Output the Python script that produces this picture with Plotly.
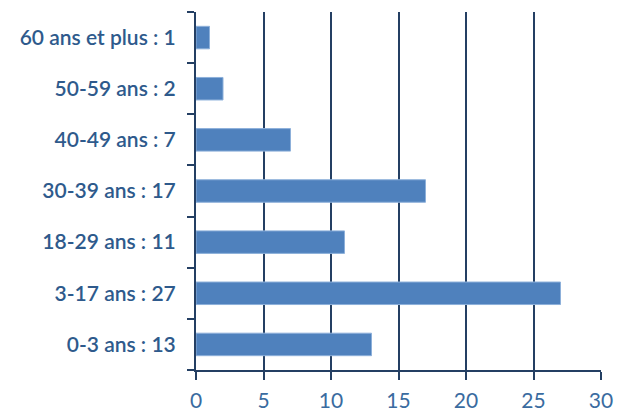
import plotly.graph_objects as go

categories = ["0-3 ans : 13", "3-17 ans : 27", "18-29 ans : 11", "30-39 ans : 17",
              "40-49 ans : 7", "50-59 ans : 2", "60 ans et plus : 1"]
values = [13, 27, 11, 17, 7, 2, 1]
x_ticks = [0, 5, 10, 15, 20, 25, 30]

navy = "#243F63"
fig = go.Figure(go.Bar(
    x=values, y=categories, orientation="h",
    marker=dict(color="#4F81BD", line=dict(color="#8DB0DA", width=1)),
))
fig.update_layout(
    width=627, height=412,
    margin=dict(l=188, r=34, t=4, b=50),
    plot_bgcolor="white", paper_bgcolor="white",
    bargap=0.56, showlegend=False,
    font=dict(family="Lato", color="#2E5A8C"),
)
fig.update_xaxes(
    range=[0, 30], tickvals=x_ticks, showgrid=True, gridcolor=navy, gridwidth=1.5,
    showline=True, linecolor=navy, linewidth=2, ticks="outside", ticklen=8,
    tickcolor=navy, tickwidth=2, zeroline=False,
    tickfont=dict(size=21, family="Lato", color="#3A6BA0"),
    ticklabelstandoff=3,
)
fig.update_yaxes(
    showline=True, linecolor=navy, linewidth=2, ticks="outside", ticklen=7,
    tickcolor=navy, tickwidth=2, tickson="boundaries", showgrid=False,
    tickfont=dict(size=21, family="Lato", color="#2E5A8C", weight=600),
    ticklabelstandoff=14,
)
fig.write_html("out.html")
